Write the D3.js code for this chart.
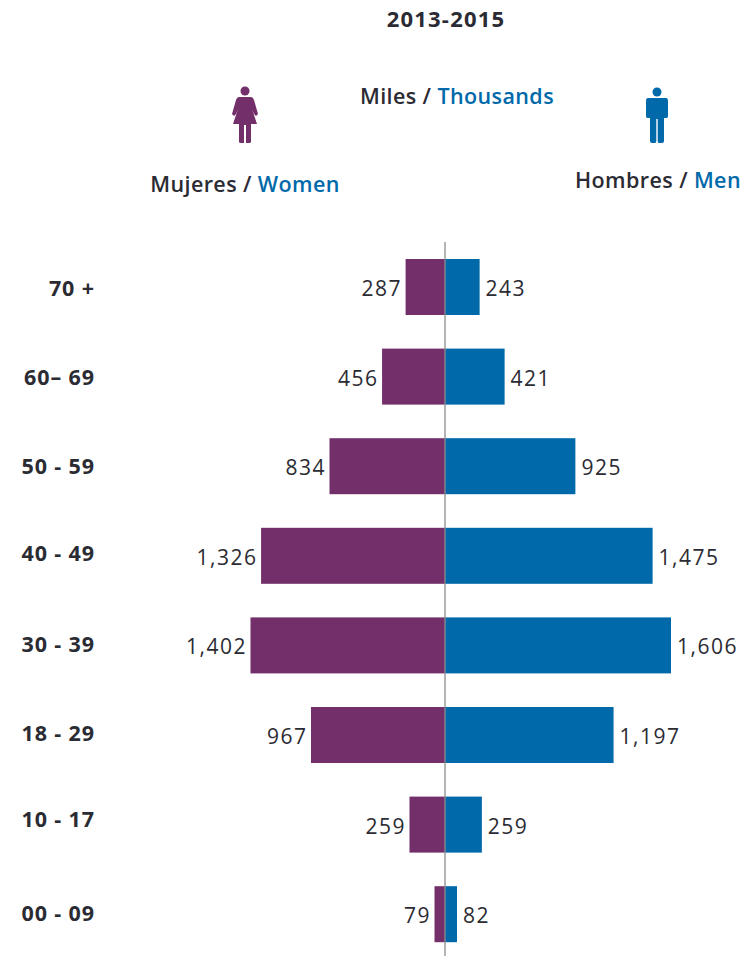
<!DOCTYPE html>
<html><head><meta charset="utf-8">
<script src="https://cdn.jsdelivr.net/npm/d3@7"></script>
<style>html,body{margin:0;padding:0;background:#fff}svg{display:block}</style>
</head><body><div id="chart"></div>
<script>
const ageGroups = ["70 +","60– 69","50 - 59","40 - 49","30 - 39","18 - 29","10 - 17","00 - 09"];
const women = [287,456,834,1326,1402,967,259,79];
const men = [243,421,925,1475,1606,1197,259,82];
const labelNudge = [0,0,-1,-3,-2,-3,-6,-2];
const purple="#722f69", blue="#0069aa", ink="#2b2b33";
const W=745,H=956,cx=445;
const font="'Open Sans',sans-serif";
const svg=d3.select("#chart").append("svg").attr("width",W).attr("height",H).style("font-family",font);
const y=d3.scaleBand().domain(ageGroups).range([259,942.2]).paddingInner(0.375).paddingOuter(0);
const xW=d3.scaleLinear().domain([0,1402]).range([cx,250]);
const xM=d3.scaleLinear().domain([0,1606]).range([cx+0.5,671]);
const fmt=d3.format(",");
svg.selectAll(".w").data(ageGroups).join("rect").attr("x",(d,i)=>xW(women[i])+0.5).attr("y",d=>y(d)).attr("width",(d,i)=>cx-xW(women[i])-0.5).attr("height",y.bandwidth()).attr("fill",purple);
svg.selectAll(".m").data(ageGroups).join("rect").attr("x",cx).attr("y",d=>y(d)).attr("width",(d,i)=>xM(men[i])-cx).attr("height",y.bandwidth()).attr("fill",blue);
svg.append("line").attr("x1",cx).attr("x2",cx).attr("y1",242).attr("y2",956).attr("stroke","#8c8c8c").attr("stroke-width",1.3);
const vl=(sel)=>sel.attr("font-size",21).attr("fill",ink).attr("letter-spacing",1.5).attr("dominant-baseline","central");
vl(svg.selectAll(".vw").data(ageGroups).join("text").attr("x",(d,i)=>xW(women[i])-3).attr("y",d=>y(d)+y.bandwidth()/2+1).attr("text-anchor","end").text((d,i)=>fmt(women[i])));
vl(svg.selectAll(".vm").data(ageGroups).join("text").attr("x",(d,i)=>xM(men[i])+6).attr("y",d=>y(d)+y.bandwidth()/2+1).attr("text-anchor","start").text((d,i)=>fmt(men[i])));
svg.selectAll(".c").data(ageGroups).join("text").attr("x",95).attr("y",(d,i)=>y(d)+y.bandwidth()/2+labelNudge[i]).attr("text-anchor","end").attr("dominant-baseline","central").attr("font-size",21.5).attr("font-weight",700).attr("letter-spacing",0.9).attr("fill",ink).text(d=>d);
function head(x,yy,anchor,a,b){
  const t=svg.append("text").attr("x",x).attr("y",yy).attr("text-anchor",anchor).attr("font-size",21.5).attr("font-weight",600).attr("letter-spacing",0.4).attr("fill",ink);
  t.append("tspan").text(a+" / ");
  t.append("tspan").attr("fill",blue).text(b);
}
svg.append("text").attr("x",446).attr("y",27).attr("text-anchor","middle").attr("font-size",22).attr("font-weight",700).attr("letter-spacing",1.2).attr("fill",ink).text("2013-2015");
head(457,104,"middle","Miles","Thousands");
head(245,192,"middle","Mujeres","Women");
head(658,188,"middle","Hombres","Men");
// icons
const wi=svg.append("g").attr("transform","translate(245,0)").attr("fill",purple);
wi.append("circle").attr("cy",91).attr("r",4.5);
wi.append("path").attr("d","M-6,97 L6,97 Q8,97 9,100 L13,114 L11,116 L9,114 L7,109 L12,124 L6,124 L6,142 Q6,143 4,143 L1,143 L1,125 L-1,125 L-1,143 L-4,143 Q-6,143 -6,142 L-6,124 L-12,124 L-7,109 L-9,114 L-11,116 L-13,114 L-9,100 Q-8,97 -6,97 Z");
const mi=svg.append("g").attr("transform","translate(657,0)").attr("fill",blue);
mi.append("circle").attr("cy",92).attr("r",4.5);
mi.append("path").attr("d","M-9,98 Q-11,98 -11,101 L-11,116 Q-11,118 -9.5,118 L-7,118 L-7,141 Q-7,143 -5,143 L-2,143 Q-0.7,143 -0.7,141 L-0.7,119 L0.7,119 L0.7,141 Q0.7,143 2,143 L5,143 Q7,143 7,141 L7,118 L9.5,118 Q11,118 11,116 L11,101 Q11,98 9,98 Z");
</script></body></html>
